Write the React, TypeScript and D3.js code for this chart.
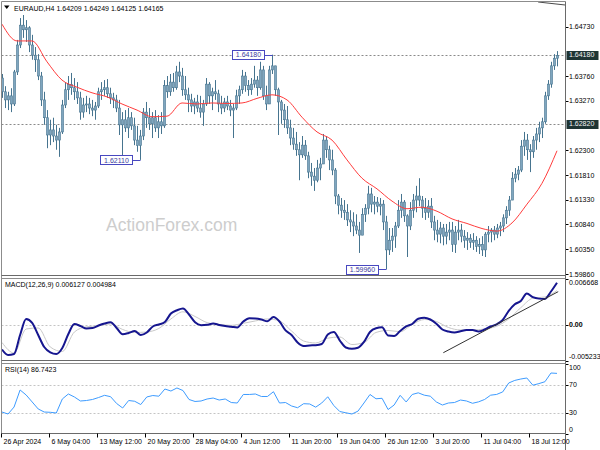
import React from "react";
import * as d3 from "d3";

// ---------- DATA ----------
const symbolTitle = "EURAUD,H4";
const lastBarQuote = ["1.64209", "1.64249", "1.64125", "1.64165"];
const macdTitle = "MACD(12,26,9) 0.006127 0.004984";
const rsiTitle = "RSI(14) 86.7423";
const watermark = "ActionForex.com";

const firstOpen = 1.6372;
const highs = [
  1.6380, 1.6356, 1.6345, 1.6352, 1.6388, 1.6447, 1.6490, 1.6496, 1.6486, 1.6474,
  1.6457, 1.6433, 1.6419, 1.6384, 1.6345, 1.6309, 1.6290, 1.6294, 1.6280, 1.6274,
  1.6329, 1.6364, 1.6376, 1.6382, 1.6372, 1.6364, 1.6345, 1.6333, 1.6337, 1.6333,
  1.6329, 1.6325, 1.6353, 1.6364, 1.6368, 1.6370, 1.6353, 1.6343, 1.6339, 1.6329,
  1.6305, 1.6309, 1.6313, 1.6305, 1.6294, 1.6278, 1.6270, 1.6313, 1.6325, 1.6313,
  1.6305, 1.6309, 1.6299, 1.6305, 1.6368, 1.6376, 1.6380, 1.6382, 1.6396, 1.6404,
  1.6392, 1.6376, 1.6353, 1.6341, 1.6333, 1.6339, 1.6337, 1.6329, 1.6372, 1.6364,
  1.6353, 1.6368, 1.6349, 1.6337, 1.6333, 1.6337, 1.6329, 1.6321, 1.6349, 1.6357,
  1.6388, 1.6384, 1.6368, 1.6372, 1.6396, 1.6376, 1.6404, 1.6396, 1.6357, 1.6396,
  1.6418, 1.6396, 1.6353, 1.6329, 1.6321, 1.6317, 1.6290, 1.6274, 1.6266, 1.6246,
  1.6258, 1.6250, 1.6227, 1.6205, 1.6195, 1.6211, 1.6215, 1.6262, 1.6258, 1.6239,
  1.6231, 1.6195, 1.6144, 1.6136, 1.6132, 1.6124, 1.6112, 1.6108, 1.6104, 1.6089,
  1.6116, 1.6124, 1.6160, 1.6156, 1.6140, 1.6138, 1.6136, 1.6132, 1.6101, 1.6077,
  1.6077, 1.6089, 1.6132, 1.6144, 1.6132, 1.6104, 1.6128, 1.6144, 1.6160, 1.6175,
  1.6140, 1.6136, 1.6132, 1.6136, 1.6101, 1.6093, 1.6089, 1.6085, 1.6085, 1.6089,
  1.6089, 1.6081, 1.6093, 1.6085, 1.6073, 1.6069, 1.6065, 1.6067, 1.6061, 1.6057,
  1.6061, 1.6069, 1.6081, 1.6077, 1.6081, 1.6085, 1.6089, 1.6104, 1.6120, 1.6140,
  1.6187, 1.6195, 1.6199, 1.6250, 1.6266, 1.6262, 1.6242, 1.6258, 1.6274, 1.6286,
  1.6294, 1.6345, 1.6368, 1.6404, 1.6419, 1.6425,
];
const lows = [
  1.6333, 1.6313, 1.6309, 1.6305, 1.6317, 1.6378, 1.6431, 1.6451, 1.6443, 1.6423,
  1.6408, 1.6384, 1.6368, 1.6317, 1.6280, 1.6234, 1.6240, 1.6246, 1.6231, 1.6217,
  1.6262, 1.6313, 1.6329, 1.6339, 1.6329, 1.6321, 1.6290, 1.6294, 1.6305, 1.6301,
  1.6297, 1.6290, 1.6313, 1.6329, 1.6337, 1.6333, 1.6321, 1.6313, 1.6305, 1.6260,
  1.6219, 1.6266, 1.6254, 1.6270, 1.6240, 1.6227, 1.6211, 1.6250, 1.6274, 1.6270,
  1.6254, 1.6266, 1.6254, 1.6262, 1.6274, 1.6333, 1.6337, 1.6345, 1.6349, 1.6364,
  1.6337, 1.6329, 1.6305, 1.6305, 1.6301, 1.6305, 1.6294, 1.6278, 1.6317, 1.6321,
  1.6309, 1.6329, 1.6305, 1.6301, 1.6305, 1.6309, 1.6297, 1.6254, 1.6309, 1.6321,
  1.6341, 1.6345, 1.6337, 1.6339, 1.6353, 1.6337, 1.6349, 1.6329, 1.6309, 1.6321,
  1.6380, 1.6337, 1.6260, 1.6282, 1.6274, 1.6262, 1.6240, 1.6231, 1.6219, 1.6171,
  1.6215, 1.6211, 1.6175, 1.6160, 1.6150, 1.6167, 1.6171, 1.6211, 1.6215, 1.6191,
  1.6181, 1.6124, 1.6104, 1.6097, 1.6093, 1.6081, 1.6069, 1.6061, 1.6065, 1.6028,
  1.6077, 1.6089, 1.6104, 1.6108, 1.6104, 1.6108, 1.6102, 1.6073, 1.5996, 1.6024,
  1.6030, 1.6038, 1.6077, 1.6097, 1.6089, 1.6020, 1.6073, 1.6097, 1.6108, 1.6120,
  1.6097, 1.6093, 1.6097, 1.6077, 1.6053, 1.6049, 1.6047, 1.6043, 1.6045, 1.6053,
  1.6030, 1.6028, 1.6053, 1.6049, 1.6038, 1.6034, 1.6038, 1.6034, 1.6030, 1.6026,
  1.6022, 1.6020, 1.6049, 1.6049, 1.6053, 1.6057, 1.6061, 1.6069, 1.6085, 1.6101,
  1.6132, 1.6167, 1.6171, 1.6187, 1.6219, 1.6211, 1.6187, 1.6215, 1.6231, 1.6246,
  1.6254, 1.6282, 1.6329, 1.6353, 1.6388, 1.6395,
];
const closes = [
  1.6345, 1.6329, 1.6337, 1.6321, 1.6384, 1.6437, 1.6476, 1.6467, 1.6471, 1.6437,
  1.6417, 1.6408, 1.6376, 1.6329, 1.6294, 1.6260, 1.6270, 1.6258, 1.6250, 1.6266,
  1.6319, 1.6349, 1.6359, 1.6353, 1.6345, 1.6333, 1.6305, 1.6319, 1.6321, 1.6313,
  1.6309, 1.6317, 1.6345, 1.6349, 1.6353, 1.6341, 1.6333, 1.6329, 1.6313, 1.6280,
  1.6290, 1.6274, 1.6294, 1.6278, 1.6250, 1.6239, 1.6258, 1.6305, 1.6294, 1.6282,
  1.6294, 1.6274, 1.6286, 1.6278, 1.6357, 1.6345, 1.6364, 1.6353, 1.6384, 1.6376,
  1.6349, 1.6339, 1.6329, 1.6317, 1.6325, 1.6313, 1.6305, 1.6321, 1.6360, 1.6337,
  1.6345, 1.6341, 1.6321, 1.6313, 1.6325, 1.6317, 1.6309, 1.6313, 1.6337, 1.6349,
  1.6376, 1.6357, 1.6349, 1.6360, 1.6368, 1.6353, 1.6388, 1.6337, 1.6321, 1.6388,
  1.6396, 1.6349, 1.6325, 1.6309, 1.6290, 1.6274, 1.6254, 1.6242, 1.6231, 1.6221,
  1.6240, 1.6219, 1.6187, 1.6179, 1.6171, 1.6195, 1.6203, 1.6250, 1.6231, 1.6211,
  1.6191, 1.6140, 1.6122, 1.6112, 1.6108, 1.6093, 1.6089, 1.6081, 1.6073, 1.6063,
  1.6104, 1.6116, 1.6144, 1.6124, 1.6128, 1.6120, 1.6124, 1.6089, 1.6034, 1.6053,
  1.6061, 1.6081, 1.6112, 1.6128, 1.6101, 1.6081, 1.6112, 1.6132, 1.6140, 1.6132,
  1.6116, 1.6108, 1.6120, 1.6089, 1.6073, 1.6065, 1.6077, 1.6061, 1.6069, 1.6073,
  1.6045, 1.6069, 1.6073, 1.6061, 1.6053, 1.6057, 1.6049, 1.6053, 1.6041, 1.6045,
  1.6034, 1.6065, 1.6069, 1.6073, 1.6065, 1.6077, 1.6081, 1.6097, 1.6112, 1.6132,
  1.6175, 1.6183, 1.6191, 1.6238, 1.6250, 1.6231, 1.6227, 1.6250, 1.6262, 1.6274,
  1.6286, 1.6337, 1.6360, 1.6396, 1.6411, 1.64165,
];

// moving average (red), one value every 5 candles
const maStep = 5;
const maValues = [
  1.6478, 1.6445, 1.6445, 1.6404, 1.6368, 1.6354, 1.6343, 1.6335, 1.6321, 1.6309,
  1.6296, 1.6297, 1.6323, 1.6321, 1.6323, 1.6322, 1.6323, 1.6332, 1.6339, 1.6329,
  1.6295, 1.6266, 1.6250, 1.6211, 1.6175, 1.6154, 1.6130, 1.6115, 1.6118, 1.6110,
  1.6095, 1.6086, 1.6076, 1.6071, 1.6087, 1.6124, 1.6165, 1.6229,
];

const macdMain = [
  -0.00356, -0.00436, -0.00421, -0.00146, 0.00087, 0.00029, -0.00146, -0.0032, -0.00397, -0.00421,
  -0.00334, -0.00131, 0.00014, -0.00015, -0.00051, -0.00044, -0.00008, 0.00021, 0.00039, -0.00044,
  -0.00135, -0.00117, -0.00088, -0.00146, -0.00109, -0.00022, 0.00007, 0.00043, 0.00166, 0.00213,
  0.00239, 0.00152, 0.00039, -0.00003, 0.00002, 0.00021, 0.0, -0.00015, -0.00025, -0.00037,
  0.0005, 0.00097, 0.00094, 0.00079, 0.00053, 0.00115, 0.0005, -0.0008, -0.00146, -0.00254,
  -0.00305, -0.00298, -0.00294, -0.00276, -0.00139, -0.00102, -0.00226, -0.00327, -0.00346, -0.00332,
  -0.00247, -0.00102, -0.00047, -0.00034, -0.00153, -0.0016, -0.00088, -0.00022, 0.00014, 0.0009,
  0.00105, 0.00079, 0.00018, -0.00066, -0.00095, -0.00109, -0.00092, -0.00073, -0.00073, -0.00095,
  -0.00066, -0.00022, 0.00009, 0.00072, 0.00203, 0.003, 0.00348, 0.00456, 0.00403, 0.00382,
  0.00377, 0.00485, 0.006127,
];
const macdSignal = [
  -0.00255, -0.00407, -0.00059, -0.00044, -0.0032, -0.00385, -0.00102, -0.00027, -0.00012, 0.00014,
  -0.00066, -0.00109, -0.00102, -0.00051, 0.00087, 0.00191, 0.00123, 0.00034, 0.00008, -0.00006,
  0.00024, 0.00058, 0.00087, 0.00058, -0.00088, -0.00233, -0.00262, -0.00192, -0.00175, -0.00284,
  -0.00255, -0.00109, -0.0008, -0.00098, 0.00007, 0.00079, 0.0005, -0.00037, -0.00073, -0.00073,
  -0.00059, -0.00019, 0.00087, 0.00251, 0.00388, 0.00406, 0.004984,
];
const macdTrend = [
  [147.1, -0.00403],
  [185.4, 0.00483],
];

const rsiValues = [
  31.0, 28.1, 38.2, 62.8, 55.6, 45.5, 35.4, 31.0, 30.6, 29.6,
  49.8, 57.0, 52.7, 46.9, 47.6, 49.1, 51.9, 55.1, 53.1, 43.3,
  36.8, 47.6, 46.5, 41.8, 52.7, 54.8, 53.8, 64.2, 61.3, 65.7,
  62.0, 49.1, 46.2, 46.9, 49.8, 51.2, 48.3, 49.8, 44.7, 44.0,
  56.3, 56.3, 57.0, 53.4, 53.4, 60.3, 44.0, 44.7, 39.7, 37.2,
  43.0, 42.6, 38.0, 44.0, 53.0, 40.4, 31.7, 29.9, 28.1, 32.2,
  44.0, 56.3, 50.1, 50.8, 34.6, 41.1, 55.1, 45.5, 56.3, 58.7,
  55.3, 53.8, 45.5, 41.1, 44.0, 44.7, 48.3, 46.9, 43.6, 45.7,
  49.1, 55.3, 56.4, 60.0, 72.9, 76.6, 78.6, 80.1, 69.7, 72.0,
  74.7, 87.3, 86.74,
];

// price scale labels (the 1.64240 and 1.62790 labels sit behind the level boxes)
const priceTicks = [
  "1.64730", "1.63760", "1.63270", "1.62300",
  "1.61810", "1.61330", "1.60840", "1.60350", "1.59860",
];
const levelLines = ["1.64180", "1.62820"];
const annotBars = [90, 46, 128];
const annotPrices = ["1.64180", "1.62110", "1.59960"];
const topTrend = [
  [178.7, 1.65216],
  [187.7, 1.65157],
];
const macdLabels = ["0.006668", "0.00", "-0.005233"];
const macdLabelValues = [0.006668, 0.0, -0.005233];
const rsiLevels = [70, 30];
const rsiLabels = ["100", "70", "30", "0"];
const timeLabels = [
  "26 Apr 2024", "6 May 04:00", "13 May 12:00", "20 May 20:00", "28 May 04:00",
  "4 Jun 12:00", "11 Jun 20:00", "19 Jun 04:00", "26 Jun 12:00", "3 Jul 20:00",
  "11 Jul 04:00", "18 Jul 12:00",
];
const candlesPerLabel = 16;

// ---------- LAYOUT ----------
const W = 600;
const H = 450;
const L = 1.5;
const R = 565.5;
const main = { top: 1.5, bottom: 275.5 };
const macdP = { top: 278.5, bottom: 360.5 };
const rsiP = { top: 363.5, bottom: 433.5 };
const FONT = "Tahoma, 'Liberation Sans', Arial, sans-serif";
const FS = 7;

export default function App() {
  const n = highs.length;
  const x = d3.scaleLinear().domain([0, n - 1]).range([2, 557]);
  const y = d3.scaleLinear().domain([1.5986, 1.6473]).range([274.3, 26.7]);
  const yM = d3.scaleLinear().domain([-0.005233, 0.006668]).range([361, 279]);
  const yR = d3.scaleLinear().domain([0, 100]).range([433.5, 364.2]);

  const px = (i: number) => Math.round(x(i)) + 0.5;
  const py = (v: number) => Math.round(y(v)) + 0.5;

  const candles = highs.map((h, i) => {
    const o = i === 0 ? firstOpen : closes[i - 1];
    const c = closes[i];
    const hi = Math.max(h, o, c);
    const lo = Math.min(lows[i], o, c);
    return { i, o, c, hi, lo };
  });

  const maLine = d3
    .line<number>()
    .x((_, k) => x(k * maStep))
    .y((v) => y(v))
    .curve(d3.curveMonotoneX)(maValues);

  const seriesX = (len: number) =>
    d3.scaleLinear().domain([0, len - 1]).range(x.range());
  const xm = seriesX(macdMain.length);
  const xs = seriesX(macdSignal.length);
  const xr = seriesX(rsiValues.length);
  const macdPath = d3
    .line<number>()
    .x((_, k) => xm(k))
    .y((v) => yM(v))
    .curve(d3.curveMonotoneX)(macdMain);
  const sigPath = d3
    .line<number>()
    .x((_, k) => xs(k))
    .y((v) => yM(v))
    .curve(d3.curveMonotoneX)(macdSignal);
  const rsiPath = d3
    .line<number>()
    .x((_, k) => xr(k))
    .y((v) => yR(v))(rsiValues);

  const frame = "#8c8c8c";
  const candleEdge = "#46748f";
  const candleFill = "#7fa6bf";

  return (
    <svg
      width={W}
      height={H}
      style={{ position: "absolute", left: 0, top: 0, background: "#fff" }}
      fontFamily={FONT}
      fontSize={FS}
    >
      <defs>
        <clipPath id="cMain">
          <rect x={L} y={main.top} width={R - L} height={main.bottom - main.top} />
        </clipPath>
        <clipPath id="cMacd">
          <rect x={L} y={macdP.top} width={R - L} height={macdP.bottom - macdP.top} />
        </clipPath>
        <clipPath id="cRsi">
          <rect x={L} y={rsiP.top} width={R - L} height={rsiP.bottom - rsiP.top} />
        </clipPath>
      </defs>
      <rect x={0} y={0} width={W} height={H} fill="#fff" />

      {/* watermark */}
      <text x={106} y={231} fontSize={17.5} fill="#cdcdcd" fontFamily="'Liberation Sans', Arial, sans-serif">
        {watermark}
      </text>

      {/* ---------- MAIN PANEL ---------- */}
      <g clipPath="url(#cMain)">
        {levelLines.map((s) => (
          <line key={s} x1={L} x2={R} y1={py(+s)} y2={py(+s)} stroke="#8a8a8a" strokeDasharray="2,2" />
        ))}
        {candles.map((d) => {
          const cx = px(d.i);
          const top = y(Math.max(d.o, d.c));
          const bot = y(Math.min(d.o, d.c));
          return (
            <g key={d.i}>
              <line x1={cx} x2={cx} y1={y(d.hi)} y2={y(d.lo)} stroke={candleEdge} strokeWidth={1} />
              <rect
                x={cx - 1}
                y={top}
                width={2}
                height={Math.max(1, bot - top)}
                fill={candleFill}
                stroke={candleEdge}
                strokeWidth={0.6}
              />
            </g>
          );
        })}
        <path d={maLine || ""} fill="none" stroke="#ff3c3c" strokeWidth={1} />
        <line
          x1={x(topTrend[0][0])}
          y1={y(topTrend[0][1])}
          x2={x(topTrend[1][0])}
          y2={y(topTrend[1][1])}
          stroke="#4a4a4a"
          strokeWidth={1}
        />
        {annotBars.map((b, k) => {
          const cx = px(b);
          const cy = y(+annotPrices[k]);
          const bw = 32;
          const bx = cx - 8.5 - bw;
          return (
            <g key={k}>
              <line x1={bx + bw} x2={cx} y1={Math.round(cy) + 0.5} y2={Math.round(cy) + 0.5} stroke="#4848c0" />
              <rect x={Math.round(bx) + 0.5} y={Math.round(cy - 4.5) + 0.5} width={bw} height={9} fill="#fff" stroke="#4848c0" />
              <text x={Math.round(bx) + bw / 2 + 0.5} y={cy + 2.6} textAnchor="middle" fill="#3b3ba0">
                {annotPrices[k]}
              </text>
            </g>
          );
        })}
      </g>
      <text x={14} y={10.5} fill="#000">
        {symbolTitle + " " + lastBarQuote.join(" ")}
      </text>
      <path d="M4,5.5 L9.5,5.5 L6.75,9 Z" fill="#000" />

      {/* price axis */}
      {priceTicks.map((s) => (
        <g key={s}>
          <line x1={R} x2={R + 3} y1={py(+s)} y2={py(+s)} stroke="#000" />
          <text x={569} y={y(+s) + 2.5} fill="#000">{s}</text>
        </g>
      ))}
      {levelLines.map((s) => (
        <g key={"lb" + s}>
          <rect x={566.5} y={Math.round(y(+s)) - 4} width={32} height={9} fill="#1e3434" />
          <text x={569} y={y(+s) + 2.5} fill="#f2f2f2">{s}</text>
        </g>
      ))}

      {/* ---------- MACD PANEL ---------- */}
      <g clipPath="url(#cMacd)">
        <line x1={L} x2={R} y1={Math.round(yM(0)) + 0.5} y2={Math.round(yM(0)) + 0.5} stroke="#c4c4c4" strokeDasharray="2,2" />
        <path d={sigPath || ""} fill="none" stroke="#c8c8c8" strokeWidth={1} />
        <path d={macdPath || ""} fill="none" stroke="#16168f" strokeWidth={2} strokeLinejoin="round" />
        <line
          x1={x(macdTrend[0][0])}
          y1={yM(macdTrend[0][1])}
          x2={x(macdTrend[1][0])}
          y2={yM(macdTrend[1][1])}
          stroke="#333"
          strokeWidth={1}
        />
      </g>
      <text x={5} y={287} fill="#000">{macdTitle}</text>
      {macdLabels.map((s, k) => {
        const v = macdLabelValues[k];
        const ty = k === 0 ? 284.8 : k === 2 ? 358.5 : yM(v) + 2.5;
        return (
          <g key={s}>
            <line x1={R} x2={R + 3} y1={Math.round(yM(v)) + 0.5} y2={Math.round(yM(v)) + 0.5} stroke="#000" />
            <text x={569} y={ty} fill="#000" fontWeight={k === 1 ? 700 : 400}>{s}</text>
          </g>
        );
      })}

      {/* ---------- RSI PANEL ---------- */}
      <g clipPath="url(#cRsi)">
        {rsiLevels.map((v) => (
          <line key={v} x1={L} x2={R} y1={Math.round(yR(v)) + 0.5} y2={Math.round(yR(v)) + 0.5} stroke="#c4c4c4" strokeDasharray="2,2" />
        ))}
        <path d={rsiPath || ""} fill="none" stroke="#3d9bff" strokeWidth={1} />
      </g>
      <text x={5} y={372} fill="#000">{rsiTitle}</text>
      {rsiLabels.map((s) => {
        const v = +s;
        const ty = v === 100 ? 370 : v === 0 ? 431.5 : yR(v) + 2.5;
        return (
          <g key={s}>
            <line x1={R} x2={R + 3} y1={Math.round(yR(v)) + 0.5} y2={Math.round(yR(v)) + 0.5} stroke="#000" />
            <text x={569} y={ty} fill="#000">{s}</text>
          </g>
        );
      })}

      {/* ---------- FRAMES ---------- */}
      <line x1={L} x2={R} y1={main.top} y2={main.top} stroke={frame} />
      <line x1={L} x2={L} y1={main.top} y2={rsiP.bottom} stroke={frame} />
      <line x1={R} x2={R} y1={main.top} y2={H} stroke="#6a6a6a" />
      <line x1={L} x2={R} y1={main.bottom} y2={main.bottom} stroke="#6a6a6a" />
      <line x1={L} x2={R} y1={macdP.top} y2={macdP.top} stroke={frame} />
      <line x1={L} x2={R} y1={macdP.bottom} y2={macdP.bottom} stroke="#6a6a6a" />
      <line x1={L} x2={R} y1={rsiP.top} y2={rsiP.top} stroke={frame} />
      <line x1={L} x2={R} y1={rsiP.bottom} y2={rsiP.bottom} stroke="#6a6a6a" />

      {/* time axis */}
      {timeLabels.map((s, k) => {
        const tx = Math.round(x(k * candlesPerLabel)) - 0.5;
        return (
          <g key={s}>
            <line x1={tx} x2={tx} y1={rsiP.bottom} y2={rsiP.bottom + 4} stroke="#000" />
            <text x={tx + 2} y={444} fill="#000">{s}</text>
          </g>
        );
      })}
    </svg>
  );
}
